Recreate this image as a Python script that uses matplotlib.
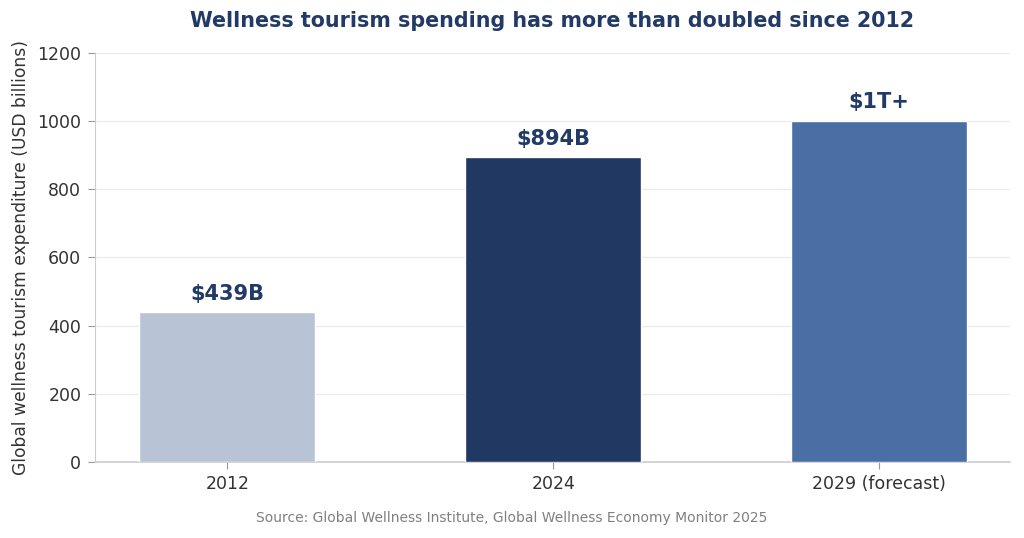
import numpy as np
import matplotlib.pyplot as plt

# Data
categories = ['2012', '2024', '2029 (forecast)']
values = [439, 894, 1000]
value_labels = ['$439B', '$894B', '$1T+']
colors = ['#b8c4d5', '#213862', '#4a6fa4']

navy = '#223a66'

fig, ax = plt.subplots(figsize=(10.24, 5.38), dpi=100)
fig.subplots_adjust(left=0.093, right=0.986, top=0.902, bottom=0.141)

x = np.arange(len(categories))
bars = ax.bar(x, values, width=0.54, color=colors, edgecolor='white', linewidth=1, zorder=3)

for b, lab in zip(bars, value_labels):
    ax.text(b.get_x() + b.get_width() / 2, b.get_height() + 25, lab,
            ha='center', va='bottom', fontsize=15, fontweight='bold', color=navy)

ax.set_xticks(x)
ax.set_xticklabels(categories, fontsize=12.5, color='#333333')
ax.set_xlim(-0.405, 2.4)
ax.set_ylim(0, 1200)
ax.set_yticks(np.arange(0, 1201, 200))
ax.tick_params(axis='y', labelsize=12.5, colors='#333333', length=5, color='#999999', pad=5)
ax.tick_params(axis='x', length=5, color='#999999', pad=4.5)
ax.set_ylabel('Global wellness tourism expenditure (USD billions)', fontsize=12.3,
              color='#333333', labelpad=5)

ax.grid(axis='y', color='#ebebeb', linewidth=1, zorder=0)
for s in ['top', 'right']:
    ax.spines[s].set_visible(False)
ax.spines['left'].set_color('#cccccc')
ax.spines['bottom'].set_color('#cccccc')
ax.spines['bottom'].set_linewidth(1.2)

ax.set_title('Wellness tourism spending has more than doubled since 2012',
             fontsize=14.9, fontweight='bold', color=navy, pad=18.5)

fig.text(0.5, 0.03, 'Source: Global Wellness Institute, Global Wellness Economy Monitor 2025',
         ha='center', fontsize=10, color='#808080')

fig.savefig('out.png', dpi=100)
